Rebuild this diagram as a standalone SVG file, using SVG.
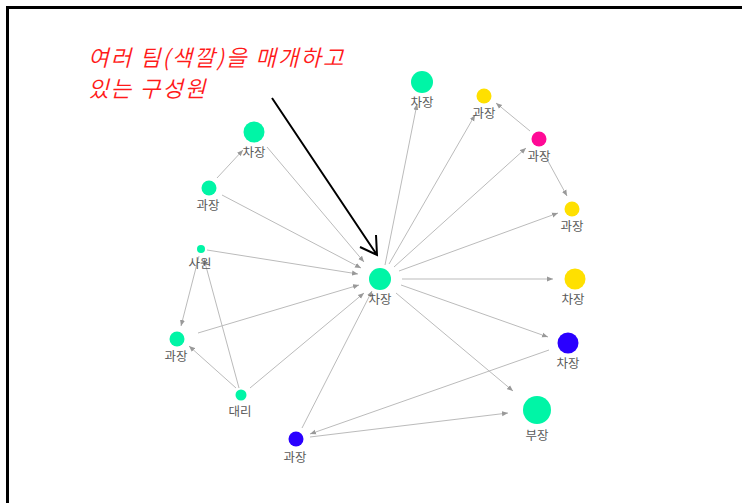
<svg xmlns="http://www.w3.org/2000/svg" width="742" height="503" viewBox="0 0 742 503">
<style>
.e{stroke:#bbb;stroke-width:1;fill:none;marker-end:url(#ah)}
.lb{font-family:"Noto Sans CJK KR","Noto Sans",sans-serif;font-size:12.5px;fill:#5a5a5a;text-anchor:middle}
.teal{fill:#00f5a6}
.yel{fill:#ffe000}
.mag{fill:#ff0a96}
.blu{fill:#2a00ff}
.note{font-family:"Noto Sans CJK KR","Noto Sans",sans-serif;font-size:22.5px;font-weight:350;letter-spacing:1.8px;fill:#ff1a1a;font-style:italic}
</style>
<defs>
<marker id="ah" markerWidth="6" markerHeight="6" refX="6" refY="3" orient="auto" markerUnits="userSpaceOnUse">
<path d="M0,0.5 L6,3 L0,5.5 z" fill="#999"/>
</marker>
</defs>
<rect width="742" height="503" fill="#fff"/>
<path d="M7.5,510 V7.5 H750" fill="none" stroke="#000" stroke-width="3"/>
<g id="connectors">
<line class="e" x1="267" y1="147" x2="364" y2="262"/>
<line class="e" x1="222" y1="195" x2="361" y2="268"/>
<line class="e" x1="207" y1="250" x2="358" y2="274"/>
<line class="e" x1="198" y1="333" x2="359" y2="285"/>
<line class="e" x1="250" y1="388" x2="364" y2="293"/>
<line class="e" x1="302" y1="428" x2="372" y2="291"/>
<line class="e" x1="217" y1="178" x2="243" y2="150"/>
<line class="e" x1="199" y1="256" x2="181" y2="326"/>
<line class="e" x1="239" y1="388" x2="204" y2="259"/>
<line class="e" x1="236" y1="388" x2="189" y2="346"/>
<line class="e" x1="385" y1="265" x2="417" y2="104"/>
<line class="e" x1="389" y1="264" x2="475" y2="115"/>
<line class="e" x1="394" y1="267" x2="526" y2="148"/>
<line class="e" x1="530" y1="131" x2="496" y2="103"/>
<line class="e" x1="543" y1="152" x2="567" y2="196"/>
<line class="e" x1="399" y1="271" x2="558" y2="213"/>
<line class="e" x1="402" y1="279" x2="553" y2="279"/>
<line class="e" x1="401" y1="285" x2="548" y2="337"/>
<line class="e" x1="396" y1="293" x2="513" y2="391"/>
<line class="e" x1="549" y1="350" x2="310" y2="434"/>
<line class="e" x1="310" y1="437" x2="508" y2="413"/>
</g>
<g id="n-center"><circle class="teal" cx="380" cy="279" r="11"/><text class="lb" x="380" y="304">차장</text></g>
<g id="n-top"><circle class="teal" cx="422" cy="82" r="11"/><text class="lb" x="422" y="107">차장</text></g>
<g id="n-y1"><circle class="yel" cx="484" cy="96" r="7.5"/><text class="lb" x="484" y="118">과장</text></g>
<g id="n-mag"><circle class="mag" cx="539" cy="139" r="7.5"/><text class="lb" x="539" y="161">과장</text></g>
<g id="n-y2"><circle class="yel" cx="572" cy="209" r="7.5"/><text class="lb" x="572" y="231">과장</text></g>
<g id="n-y3"><circle class="yel" cx="575" cy="279" r="10.5"/><text class="lb" x="573" y="304">차장</text></g>
<g id="n-b1"><circle class="blu" cx="568" cy="343" r="10.5"/><text class="lb" x="568" y="368">차장</text></g>
<g id="n-bu"><circle class="teal" cx="537" cy="410" r="14"/><text class="lb" x="537" y="440">부장</text></g>
<g id="n-b2"><circle class="blu" cx="296" cy="439" r="7.5"/><text class="lb" x="295" y="462">과장</text></g>
<g id="n-dae"><circle class="teal" cx="241" cy="395" r="5.5"/><text class="lb" x="240" y="416">대리</text></g>
<g id="n-gl"><circle class="teal" cx="177" cy="339" r="7.5"/><text class="lb" x="176" y="361">과장</text></g>
<g id="n-sa"><circle class="teal" cx="201" cy="249" r="4"/><text class="lb" x="200" y="268">사원</text></g>
<g id="n-gul"><circle class="teal" cx="209" cy="188" r="7.5"/><text class="lb" x="208" y="210">과장</text></g>
<g id="n-cul"><circle class="teal" cx="254" cy="132" r="10.5"/><text class="lb" x="254" y="157">차장</text></g>
<g id="annotation">
<text class="note" x="88" y="66">여러 팀(색깔)을 매개하고</text>
<text class="note" x="88" y="97">있는 구성원</text>
<path d="M272,98 L377,255 M360,247 L377,255 L376,235" fill="none" stroke="#000" stroke-width="2"/>
</g>
</svg>
